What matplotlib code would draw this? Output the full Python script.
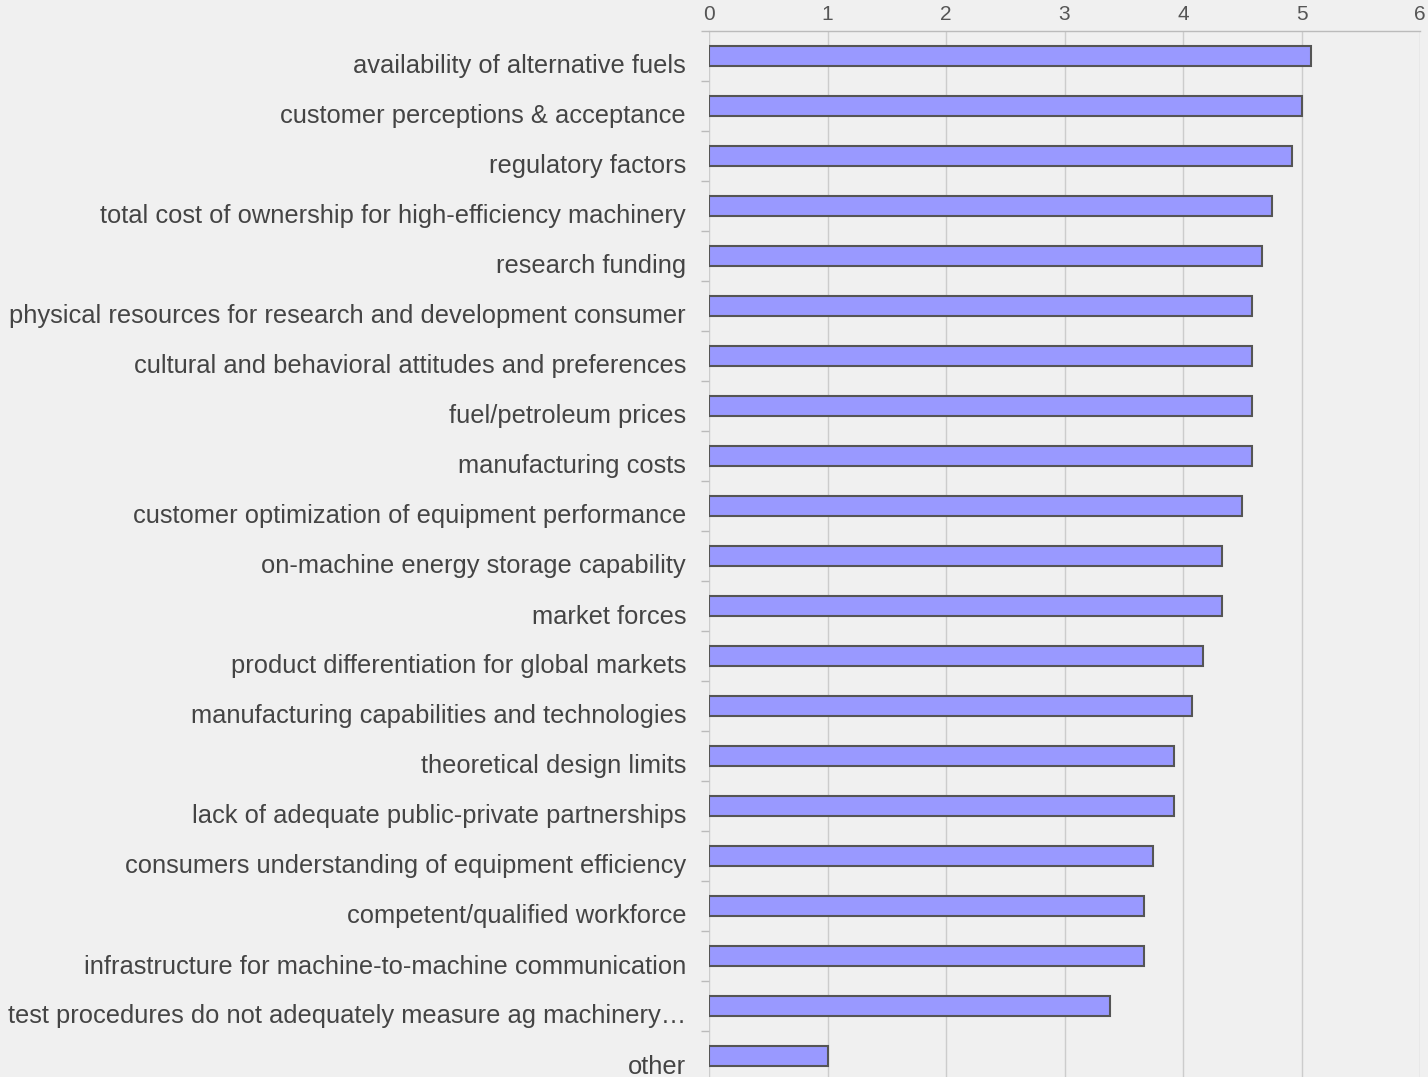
import numpy as np
import matplotlib
matplotlib.use('Agg')
import matplotlib.pyplot as plt
from matplotlib.transforms import ScaledTranslation

### DATA
categories = [
  'availability of alternative fuels',
  'customer perceptions & acceptance',
  'regulatory factors',
  'total cost of ownership for high-efficiency machinery',
  'research funding',
  'physical resources for research and development consumer',
  'cultural and behavioral attitudes and preferences',
  'fuel/petroleum prices',
  'manufacturing costs',
  'customer optimization of equipment performance',
  'on-machine energy storage capability',
  'market forces',
  'product differentiation for global markets',
  'manufacturing capabilities and technologies',
  'theoretical design limits',
  'lack of adequate public-private partnerships',
  'consumers understanding of equipment efficiency',
  'competent/qualified workforce',
  'infrastructure for machine-to-machine communication',
  'test procedures do not adequately measure ag machinery\u2026',
  'other',
]
scores = [5.08, 5.0, 4.92, 4.75, 4.67, 4.58, 4.58, 4.58, 4.58, 4.5,
          4.33, 4.33, 4.17, 4.08, 3.92, 3.92, 3.75, 3.67, 3.67, 3.38, 1.0]
xticks = [0, 1, 2, 3, 4, 5, 6]

BG = '#f0f0f0'
plt.rcParams['font.family'] = ['Liberation Sans', 'DejaVu Sans']

fig = plt.figure(figsize=(14.28, 10.77), dpi=100, facecolor=BG)
ax = fig.add_axes([709/1428, (1077-1081)/1077, 711/1428, 1050/1077])
ax.set_facecolor(BG)

ypos = np.arange(len(categories))
ax.barh(ypos, scores, height=0.4, color='#9999ff', edgecolor='#555555', linewidth=1.5, zorder=3)

ax.set_xlim(0, 6)
ax.set_ylim(len(categories) - 0.5, -0.5)

### X AXIS ON TOP
ax.xaxis.tick_top()
ax.set_xticks(xticks)
ax.set_xticklabels([str(t) for t in xticks], fontsize=15, color='#555555')
ax.tick_params(axis='x', length=0, pad=5)
ax.grid(axis='x', color='#cccccc', linewidth=1, zorder=0)

### Y AXIS LABELS, SHIFTED A BIT DOWN LIKE THE ORIGINAL
ax.set_yticks(ypos)
ax.set_yticklabels(categories, fontsize=18.4, color='#444444')
ax.tick_params(axis='y', which='major', length=0, pad=16.5)
ax.set_yticks(np.arange(-0.5, len(categories), 1.0), minor=True)
ax.tick_params(axis='y', which='minor', length=6, color='#bbbbbb', width=1)
shift = ScaledTranslation(0, -8/100, fig.dpi_scale_trans)
for lbl in ax.get_yticklabels():
  lbl.set_transform(lbl.get_transform() + shift)

for s in ['left', 'right', 'bottom']:
  ax.spines[s].set_visible(False)
ax.spines['top'].set_color('#bbbbbb')
ax.spines['top'].set_linewidth(1)

fig.savefig('out.png', dpi=100, facecolor=BG)
